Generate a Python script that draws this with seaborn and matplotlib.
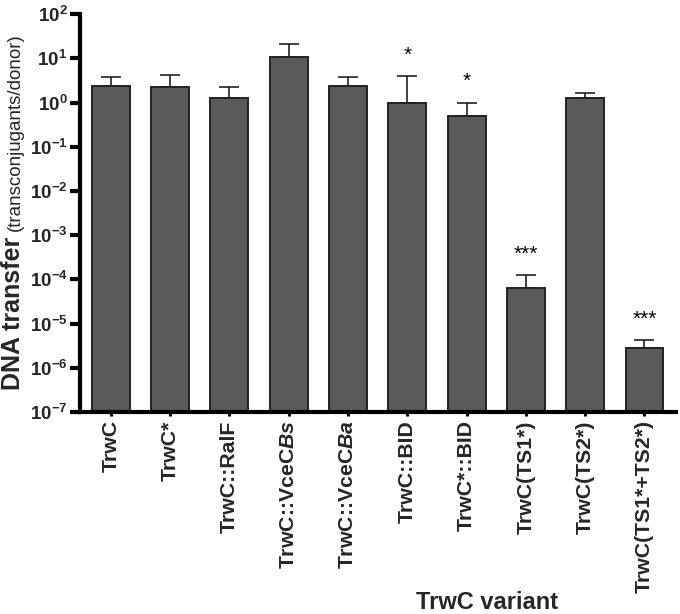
import numpy as np
import pandas as pd
import matplotlib
matplotlib.use("Agg")
import matplotlib.pyplot as plt
import seaborn as sns

# data
variants = ["TrwC", "TrwC*", "TrwC::RalF", r"TrwC::VceC$\mathit{Bs}$", r"TrwC::VceC$\mathit{Ba}$",
            "TrwC::BID", "TrwC*::BID", "TrwC(TS1*)", "TrwC(TS2*)", "TrwC(TS1*+TS2*)"]
transfer = [2.4, 2.2, 1.3, 11.0, 2.4, 0.98, 0.5, 6.5e-5, 1.3, 2.8e-6]
err_top = [3.7, 4.3, 2.2, 21.0, 3.8, 4.0, 1.0, 1.25e-4, 1.65, 4.2e-6]
stars = ["", "", "", "", "", "*", "*", "***", "", "***"]

sns.set_theme(style="ticks")
plt.rcParams['font.family'] = ['Liberation Sans', 'DejaVu Sans']
plt.rcParams['mathtext.fontset'] = 'custom'
plt.rcParams['mathtext.rm'] = 'Liberation Sans:bold'
plt.rcParams['mathtext.bf'] = 'Liberation Sans:bold'
plt.rcParams['mathtext.it'] = 'Liberation Sans:bold:italic'

df = pd.DataFrame({"variant": variants, "transfer": transfer})

fig = plt.figure(figsize=(6.8, 6.14), dpi=100)
ax = fig.add_axes([0.1176, 0.329, 0.994 - 0.1176, 0.977 - 0.329])

x = np.arange(len(variants))
upper = np.array(err_top) - np.array(transfer)
ax.errorbar(x, transfer, yerr=[np.zeros(len(x)), upper], fmt="none", ecolor="#111111",
            elinewidth=1.1, capsize=7, capthick=1.1, zorder=1)

sns.barplot(data=df, x="variant", y="transfer", color="#5a5a5a", saturation=1,
            edgecolor="#222222", linewidth=1.4, width=0.64, ax=ax, zorder=2)

ax.set_yscale("log")
ax.set_ylim(1e-7, 1e2)
ax.set_xlim(-0.52, 9.53)

ax.set_yticks([10.0 ** k for k in range(-7, 3)])
ax.set_yticklabels([r"$\mathbf{10^{%d}}$" % k for k in range(-7, 3)])
ax.yaxis.set_minor_locator(matplotlib.ticker.LogLocator(base=10, subs=np.arange(2, 10)))
ax.yaxis.set_minor_formatter(matplotlib.ticker.NullFormatter())

ax.set_xticks(x)
ax.set_xticklabels(variants, rotation=90, fontweight="bold", fontsize=15.3)

for tl in ax.get_yticklabels():
    tl.set_fontsize(13.5)

ax.tick_params(axis="y", which="major", length=7, width=3, color="black", pad=2)
ax.tick_params(axis="y", which="minor", length=3.5, width=1.5, color="black")
ax.tick_params(axis="x", which="major", length=3, width=2.2, color="black", pad=3)

for side in ["left", "bottom"]:
    ax.spines[side].set_linewidth(3)
    ax.spines[side].set_color("black")
sns.despine(ax=ax)

for i, s in enumerate(stars):
    if s:
        ax.text(i, err_top[i] * 3.0, s, ha="center", va="center", fontsize=15, color="black")

ax.set_ylabel("")
ax.set_xlabel("")

# y label: bold part followed by the regular part
bold = fig.text(0.029, 1 - 390 / 614, "DNA transfer", rotation=90, rotation_mode="anchor",
                ha="left", va="baseline", fontsize=18, fontweight="bold")
fig.canvas.draw()
bb = bold.get_window_extent(fig.canvas.get_renderer())
top_frac = (bb.y1 + 6) / fig.bbox.height
fig.text(0.029, top_frac, "(transconjugants/donor)", rotation=90, rotation_mode="anchor",
         ha="left", va="baseline", fontsize=13.5)

fig.text(0.716, 0.0195, "TrwC variant", ha="center", va="center", fontsize=17, fontweight="bold")

fig.savefig("out.png", dpi=100)
